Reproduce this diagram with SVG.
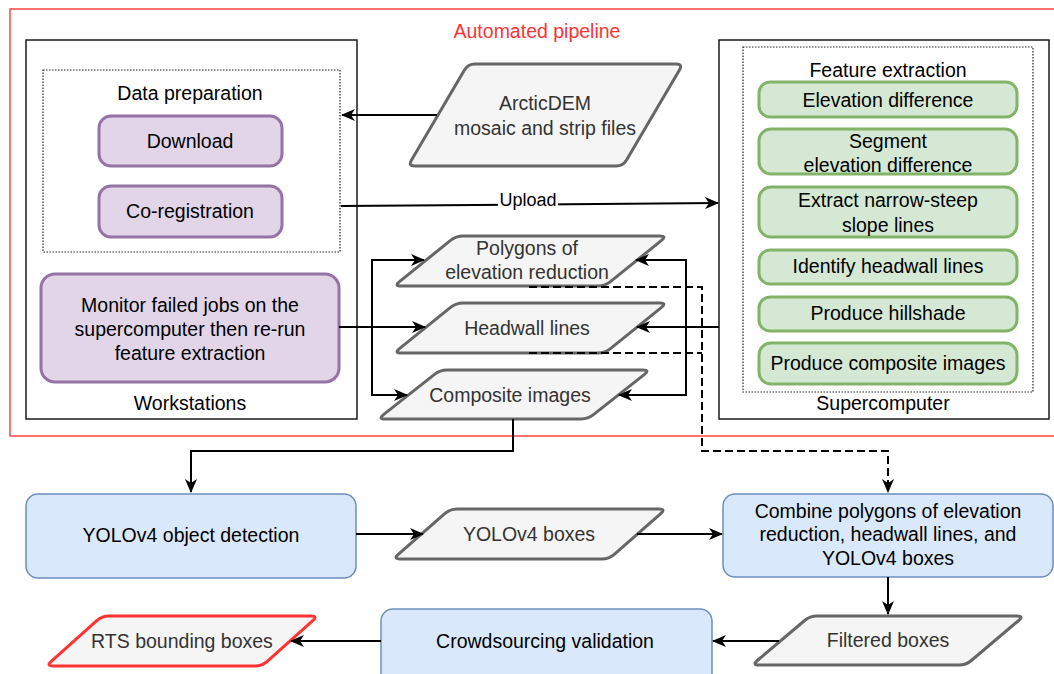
<svg xmlns="http://www.w3.org/2000/svg" width="1054" height="674" viewBox="0 0 1054 674">
<defs>
<marker id="arr" markerUnits="userSpaceOnUse" viewBox="0 0 14 12" refX="13" refY="6" markerWidth="14" markerHeight="12" orient="auto">
<path d="M0,0 L14,6 L0,12 L4,6 Z" fill="#000"/>
</marker>
<style>
text{font-family:"Liberation Sans",Arial,Helvetica,sans-serif;font-size:19.5px;fill:#000;text-anchor:middle}
.gt{fill:#333333}
.red{fill:#ff3333}
.cont{fill:none;stroke:#1a1a1a;stroke-width:1.5}
.dot{fill:none;stroke:#222;stroke-width:1.2;stroke-dasharray:1.5 1.5}
.pur{fill:#e1d5e7;stroke:#9673a6;stroke-width:3}
.grn{fill:#d5e8d4;stroke:#82b366;stroke-width:3}
.blu{fill:#dae8fc;stroke:#6c8ebf;stroke-width:1.5}
.gry{fill:#f5f5f5;stroke:#666666;stroke-width:3}
.rts{fill:#f5f5f5;stroke:#ff3333;stroke-width:3}
.ln{fill:none;stroke:#000;stroke-width:2}
.dash{fill:none;stroke:#000;stroke-width:2;stroke-dasharray:8 4}
</style>
</defs>
<rect width="1054" height="674" fill="#fff"/>

<g id="pipeline">
<rect x="10" y="9" width="1060" height="427" fill="none" stroke="#ff4444" stroke-width="1.5"/>
<text class="red" x="537" y="38">Automated pipeline</text>
</g>

<g id="workstations">
<rect class="cont" x="26" y="40" width="331" height="379"/>
<text x="190" y="410">Workstations</text>
</g>
<g id="data-preparation">
<rect class="dot" x="43" y="70" width="297" height="182"/>
<text x="190" y="100">Data preparation</text>
</g>
<g id="download">
<rect class="pur" x="99" y="116" width="183" height="50" rx="12"/>
<text x="190" y="148">Download</text>
</g>
<g id="coregistration">
<rect class="pur" x="99" y="186" width="183" height="51" rx="12"/>
<text x="190" y="218">Co-registration</text>
</g>
<g id="monitor">
<rect class="pur" x="41" y="274" width="298" height="108" rx="14"/>
<text x="190" y="312">Monitor failed jobs on the</text>
<text x="190" y="336">supercomputer then re-run</text>
<text x="190" y="360">feature extraction</text>
</g>

<g id="supercomputer">
<rect class="cont" x="719" y="40" width="330" height="379"/>
<text x="883" y="410">Supercomputer</text>
</g>
<g id="feature-extraction">
<rect class="dot" x="743" y="47" width="290" height="345"/>
<text x="888" y="77">Feature extraction</text>
</g>
<g id="elev-diff">
<rect class="grn" x="759" y="82" width="258" height="35" rx="11"/>
<text x="888" y="107">Elevation difference</text>
</g>
<g id="segment">
<rect class="grn" x="759" y="129" width="258" height="45" rx="12"/>
<text x="888" y="148">Segment</text>
<text x="888" y="172">elevation difference</text>
</g>
<g id="extract">
<rect class="grn" x="759" y="187" width="258" height="50" rx="12"/>
<text x="888" y="207">Extract narrow-steep</text>
<text x="888" y="232">slope lines</text>
</g>
<g id="identify">
<rect class="grn" x="759" y="250" width="258" height="34" rx="11"/>
<text x="888" y="273">Identify headwall lines</text>
</g>
<g id="hillshade">
<rect class="grn" x="759" y="297" width="258" height="34" rx="11"/>
<text x="888" y="320">Produce hillshade</text>
</g>
<g id="composite-proc">
<rect class="grn" x="759" y="343" width="258" height="41" rx="12"/>
<text x="888" y="370">Produce composite images</text>
</g>

<g id="arcticdem">
<path class="gry" d="M475,64 L676,64 Q683,64 679.45,70.03 L626.55,159.97 Q623,166 616,166 L415,166 Q408,166 411.55,159.97 L464.45,70.03 Q468,64 475,64Z"/>
<text class="gt" x="545" y="110">ArcticDEM</text>
<text class="gt" x="545" y="135">mosaic and strip files</text>
</g>
<g id="polygons">
<path class="gry" d="M463,236 L660,236 Q667,236 661.55,240.39 L610.45,281.61 Q605,286 598,286 L401,286 Q394,286 399.45,281.61 L450.55,240.39 Q456,236 463,236Z"/>
<text class="gt" x="527" y="255">Polygons of</text>
<text class="gt" x="527" y="279">elevation reduction</text>
</g>
<g id="headwall">
<path class="gry" d="M463,303 L660,303 Q667,303 661.55,307.39 L610.45,348.61 Q605,353 598,353 L401,353 Q394,353 399.45,348.61 L450.55,307.39 Q456,303 463,303Z"/>
<text class="gt" x="527" y="335">Headwall lines</text>
</g>
<g id="composite">
<path class="gry" d="M447,370 L643,370 Q650,370 644.51,374.34 L593.49,414.66 Q588,419 581,419 L385,419 Q378,419 383.49,414.66 L434.51,374.34 Q440,370 447,370Z"/>
<text class="gt" x="510" y="402">Composite images</text>
</g>

<g id="yolo-detection">
<rect class="blu" x="26" y="494" width="330" height="84" rx="12"/>
<text x="191" y="542">YOLOv4 object detection</text>
</g>
<g id="yolo-boxes">
<path class="gry" d="M457,509 L659,509 Q666,509 660.74,513.62 L614.26,554.38 Q609,559 602,559 L400,559 Q393,559 398.26,554.38 L444.74,513.62 Q450,509 457,509Z"/>
<text class="gt" x="529" y="541">YOLOv4 boxes</text>
</g>
<g id="combine">
<rect class="blu" x="723" y="494" width="330" height="83" rx="12"/>
<text x="888" y="518">Combine polygons of elevation</text>
<text x="888" y="541">reduction, headwall lines, and</text>
<text x="888" y="565">YOLOv4 boxes</text>
</g>
<g id="filtered">
<path class="gry" d="M817,616 L1017,616 Q1024,616 1018.65,620.52 L971.35,660.48 Q966,665 959,665 L759,665 Q752,665 757.35,660.48 L804.65,620.52 Q810,616 817,616Z"/>
<text class="gt" x="888" y="647">Filtered boxes</text>
</g>
<g id="crowdsourcing">
<rect class="blu" x="381" y="609" width="331" height="85" rx="12"/>
<text x="545" y="648">Crowdsourcing validation</text>
</g>
<g id="rts">
<path class="rts" d="M109,616 L311,616 Q318,616 312.78,620.66 L267.22,661.34 Q262,666 255,666 L53,666 Q46,666 51.22,661.34 L96.78,620.66 Q102,616 109,616Z"/>
<text class="gt" x="182" y="648">RTS bounding boxes</text>
</g>

<g id="connectors">
<path class="ln" d="M437,115 L342,115" marker-end="url(#arr)"/>
<path class="ln" d="M341,206 L718,203" marker-end="url(#arr)"/>
<rect x="498" y="189" width="60" height="21" fill="#fff"/>
<text x="528" y="206" style="font-size:18px">Upload</text>
<path class="ln" d="M339,327 L425,327" marker-end="url(#arr)"/>
<path class="ln" d="M372,327 L372,260 L424,260" marker-end="url(#arr)"/>
<path class="ln" d="M372,327 L372,395 L407,395" marker-end="url(#arr)"/>
<path class="ln" d="M719,327 L637,327" marker-end="url(#arr)"/>
<path class="ln" d="M686,327 L686,260 L636,260" marker-end="url(#arr)"/>
<path class="ln" d="M686,327 L686,395 L619,395" marker-end="url(#arr)"/>
<path class="dash" d="M529,287 L702,287 L702,451 L888,451 L888,492" marker-end="url(#arr)"/>
<path class="dash" d="M529,353 L702,353"/>
<path class="ln" d="M513,419 L513,451 L191,451 L191,492" marker-end="url(#arr)"/>
<path class="ln" d="M356,534 L423,534" marker-end="url(#arr)"/>
<path class="ln" d="M637,534 L722,534" marker-end="url(#arr)"/>
<path class="ln" d="M888,577 L888,614" marker-end="url(#arr)"/>
<path class="ln" d="M779,641 L713,641" marker-end="url(#arr)"/>
<path class="ln" d="M381,641 L291,641" marker-end="url(#arr)"/>
</g>
</svg>
